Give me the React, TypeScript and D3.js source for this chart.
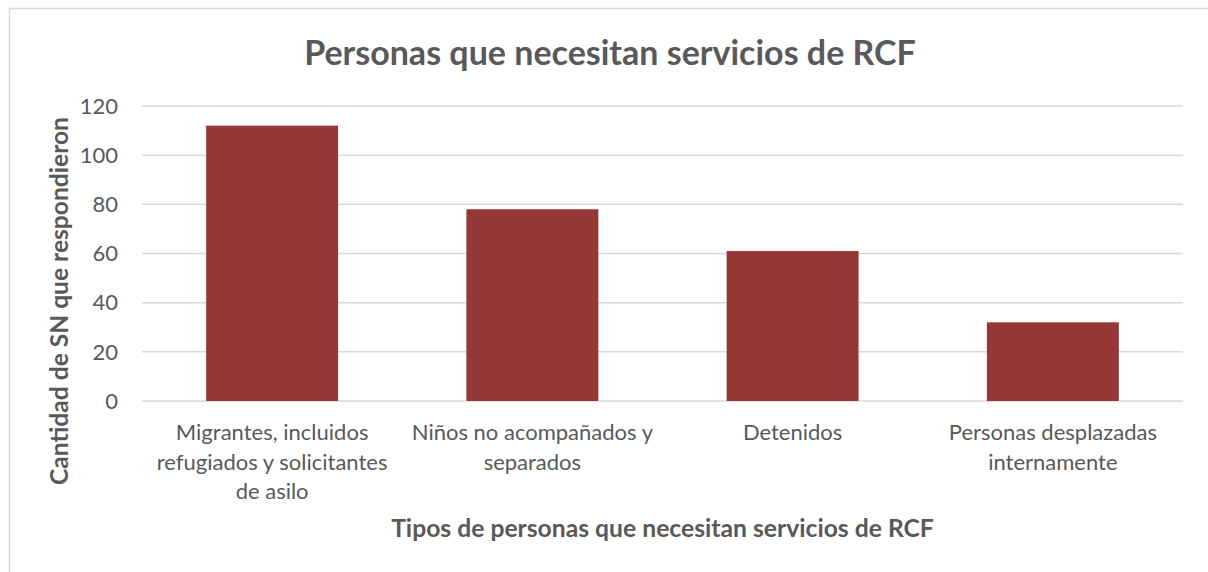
import { useEffect, useRef } from "react";
import * as d3 from "d3";

// datos
const categories = [
  "Migrantes, incluidos refugiados y solicitantes de asilo",
  "Niños no acompañados y separados",
  "Detenidos",
  "Personas desplazadas internamente",
];
const categoryLines = [
  ["Migrantes, incluidos", "refugiados y solicitantes", "de asilo"],
  ["Niños no acompañados y", "separados"],
  ["Detenidos"],
  ["Personas desplazadas", "internamente"],
];
const values = [112, 78, 61, 32];
const yTicks = [0, 20, 40, 60, 80, 100, 120];

const title = "Personas que necesitan servicios de RCF";
const xTitle = "Tipos de personas que necesitan servicios de RCF";
const yTitle = "Cantidad de SN que respondieron";

const W = 1208;
const H = 572;
const FONT = "Lato, 'Open Sans', sans-serif";
const TEXT = "#595959";

const BarChart: React.FC = () => {
  const svgRef = useRef<SVGSVGElement | null>(null);

  useEffect(() => {
    if (!svgRef.current) return;
    const svg = d3.select(svgRef.current);
    svg.selectAll("*").remove();

    const plot = { left: 142, right: 1183, top: 106, bottom: 401 };

    // borde del gráfico
    svg
      .append("rect")
      .attr("x", 9.5)
      .attr("y", 8.5)
      .attr("width", 1300)
      .attr("height", 700)
      .attr("fill", "#fff")
      .attr("stroke", "#d9d9d9")
      .attr("stroke-width", 1.5);

    const x = d3
      .scaleBand<string>()
      .domain(categories)
      .range([plot.left, plot.right])
      .paddingInner(0.493)
      .paddingOuter(0.2465);

    const y = d3.scaleLinear().domain([0, 120]).range([plot.bottom, plot.top]);

    // líneas de cuadrícula
    svg
      .append("g")
      .selectAll("line")
      .data(yTicks)
      .join("line")
      .attr("x1", plot.left)
      .attr("x2", plot.right)
      .attr("y1", (d) => y(d))
      .attr("y2", (d) => y(d))
      .attr("stroke", "#d9d9d9")
      .attr("stroke-width", 1.5);

    // etiquetas eje y
    svg
      .append("g")
      .selectAll("text")
      .data(yTicks)
      .join("text")
      .attr("x", 118)
      .attr("y", (d) => y(d))
      .attr("dy", "0.35em")
      .attr("text-anchor", "end")
      .attr("font-family", FONT)
      .attr("font-size", 22)
      .attr("fill", TEXT)
      .text((d) => d);

    // barras
    svg
      .append("g")
      .selectAll("rect")
      .data(values)
      .join("rect")
      .attr("x", (_, i) => x(categories[i]) as number)
      .attr("width", x.bandwidth())
      .attr("y", (d) => y(d))
      .attr("height", (d) => y(0) - y(d))
      .attr("fill", "#953735");

    // etiquetas de categorías
    const cats = svg
      .append("g")
      .selectAll("text")
      .data(categoryLines)
      .join("text")
      .attr("x", (_, i) => (x(categories[i]) as number) + x.bandwidth() / 2)
      .attr("y", 440)
      .attr("text-anchor", "middle")
      .attr("font-family", FONT)
      .attr("font-size", 22)
      .attr("fill", TEXT);
    cats
      .selectAll("tspan")
      .data((d) => d)
      .join("tspan")
      .attr("x", function () {
        return (this.parentNode as SVGTextElement).getAttribute("x");
      })
      .attr("dy", (_, i) => (i === 0 ? 0 : 29.5))
      .text((d) => d);

    // título
    svg
      .append("text")
      .attr("x", 610)
      .attr("y", 65)
      .attr("text-anchor", "middle")
      .attr("font-family", FONT)
      .attr("font-weight", "bold")
      .attr("font-size", 34)
      .attr("fill", TEXT)
      .text(title);

    // título eje x
    svg
      .append("text")
      .attr("x", (plot.left + plot.right) / 2)
      .attr("y", 537)
      .attr("text-anchor", "middle")
      .attr("font-family", FONT)
      .attr("font-weight", "bold")
      .attr("font-size", 24.7)
      .attr("fill", TEXT)
      .text(xTitle);

    // título eje y
    svg
      .append("text")
      .attr("transform", `translate(68,301) rotate(-90)`)
      .attr("text-anchor", "middle")
      .attr("font-family", FONT)
      .attr("font-weight", "bold")
      .attr("font-size", 24.6)
      .attr("fill", TEXT)
      .text(yTitle);
  }, []);

  return (
    <svg
      ref={svgRef}
      width={W}
      height={H}
      style={{ position: "absolute", left: 0, top: 0, background: "#fff" }}
    ></svg>
  );
};

export default function App() {
  return <BarChart />;
}
